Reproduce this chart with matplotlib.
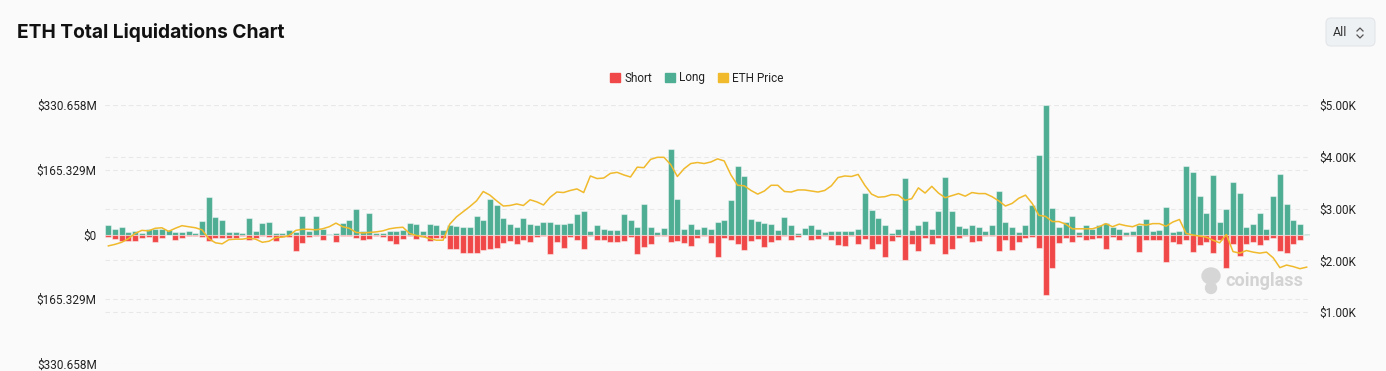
import numpy as np
import matplotlib
matplotlib.use("Agg")
import matplotlib.pyplot as plt
import matplotlib.transforms as mtransforms
from matplotlib.patches import Patch, FancyBboxPatch, Ellipse
from matplotlib.lines import Line2D

plt.rcParams['font.family'] = ['Roboto', 'DejaVu Sans']

# liquidations in $M per period, price in $K
long_liq = [24.6, 15, 18, 6, 9, 3, 15, 13, 14, 11, 7, 6, 8, 4, 35, 97, 45, 36, 7, 7,
            3, 43, 9, 30, 32, 4, 3, 11, 7, 47, 8.5, 46, 13, 2.5, 4, 30, 38, 64, 9, 55,
            3, 3, 8.5, 9, 11, 30, 27, 8.5, 27, 23, 11, 25, 21, 18, 19, 48, 36, 90, 75, 43,
            28, 18, 43, 28, 25, 33, 31, 28, 28, 30, 53, 60, 9, 25, 13, 11, 11, 52, 38, 18,
            78, 20, 6, 17, 219, 90, 13, 28, 13, 18, 14, 33, 38, 89, 176, 149, 40, 35, 30, 28,
            12, 44, 24, 3, 17, 25, 15, 6, 9, 9, 8, 8, 14, 106, 62, 41, 24, 4, 15, 145,
            11, 25, 35, 13, 60, 148, 59, 21, 17, 25, 20, 9, 23, 110, 32, 20, 7, 25, 76, 204,
            330.658, 68, 20, 31, 48, 7, 25, 13, 24, 30, 20, 13, 7, 10, 24, 39, 8.5, 11, 70, 6,
            9, 174, 159, 98, 55, 153, 31, 64, 134, 106, 20, 28, 55, 13, 98, 155, 79, 38, 26, 0.3]
short_liq = [6, 12, 16, 16, 16, 8.5, 6, 19, 8.5, 2, 13, 10, 4, 4, 6, 16, 8, 8, 10, 8,
             4, 14, 8, 4, 6, 16, 6, 6, 42, 21, 6, 4, 14, 2, 20, 4, 4, 8, 13, 12,
             4, 6, 16, 25, 12, 3, 12, 6, 16, 10, 8.5, 37, 38, 47, 47, 47, 40, 38, 34, 21,
             17, 23, 14, 20, 7, 5, 50, 20, 34, 7, 15, 36, 5, 13, 14, 20, 19, 16, 7, 50,
             31, 25, 3, 5, 20, 17, 21, 30, 9, 5, 21, 57, 8.5, 13, 25, 40, 17, 11, 31, 19,
             13, 3, 13, 6, 2, 14, 12, 5, 14, 27, 30, 4, 23, 11, 36, 25, 57, 17, 6, 65,
             25, 42, 10, 23, 10, 50, 37, 10, 4, 19, 16, 4, 4, 42, 13, 40, 20, 10, 6, 34,
             155, 85, 21, 10, 18, 6, 14, 11, 10, 37, 7, 14, 4, 3, 44, 13, 14, 14, 70, 19,
             23, 13, 44, 27, 19, 48, 14, 85, 25, 55, 23, 19, 27, 13, 10, 42, 46, 25, 13, 1]
eth_price = [2.28, 2.31, 2.35, 2.42, 2.52, 2.58, 2.57, 2.62, 2.63, 2.56, 2.62, 2.67, 2.65, 2.63, 2.59, 2.42, 2.34, 2.32, 2.40, 2.41,
             2.41, 2.43, 2.41, 2.35, 2.37, 2.44, 2.45, 2.48, 2.58, 2.60, 2.60, 2.59, 2.61, 2.65, 2.72, 2.65, 2.62, 2.54, 2.53, 2.54,
             2.55, 2.57, 2.61, 2.63, 2.64, 2.52, 2.48, 2.46, 2.42, 2.39, 2.39, 2.70, 2.84, 2.94, 3.04, 3.15, 3.33, 3.26, 3.15, 3.05,
             3.06, 3.09, 3.06, 3.17, 3.13, 3.07, 3.22, 3.32, 3.31, 3.35, 3.38, 3.31, 3.63, 3.58, 3.59, 3.68, 3.70, 3.65, 3.61, 3.80,
             3.79, 3.95, 3.99, 3.99, 3.85, 3.62, 3.77, 3.87, 3.89, 3.87, 3.90, 3.96, 3.92, 3.65, 3.45, 3.44, 3.35, 3.28, 3.34, 3.45,
             3.45, 3.33, 3.32, 3.36, 3.36, 3.34, 3.32, 3.35, 3.44, 3.60, 3.63, 3.62, 3.66, 3.45, 3.28, 3.22, 3.23, 3.27, 3.26, 3.16,
             3.19, 3.40, 3.30, 3.43, 3.30, 3.21, 3.25, 3.29, 3.24, 3.31, 3.29, 3.29, 3.23, 3.15, 3.05, 3.10, 3.20, 3.26, 3.10, 2.87,
             2.85, 2.75, 2.75, 2.70, 2.61, 2.61, 2.61, 2.61, 2.65, 2.71, 2.65, 2.70, 2.67, 2.65, 2.70, 2.68, 2.71, 2.71, 2.66, 2.74,
             2.79, 2.52, 2.49, 2.47, 2.45, 2.39, 2.34, 2.50, 2.17, 2.14, 2.19, 2.16, 2.14, 2.16, 2.05, 1.86, 1.91, 1.88, 1.84, 1.87]

left_max = 330.658
left_ticks = [-left_max, -left_max / 2, 0, left_max / 2, left_max]
right_ticks = [1000, 2000, 3000, 4000, 5000]

GREEN = '#4EAE94'
RED = '#F04848'
YELLOW = '#F0BA2C'
BG = '#FAFAFA'
GRID = '#E8E8E8'
TXT = '#222222'

W, H = 1386, 371
fig = plt.figure(figsize=(W / 100, H / 100), dpi=100, facecolor=BG)
ax = fig.add_axes([105 / W, 7 / H, 1205 / W, 259 / H])
ax.set_facecolor(BG)
ax2 = ax.twinx()

x = np.arange(1, len(long_liq) + 1)
edge = (1, 1, 1, 0.45)
ax.bar(x, long_liq, width=0.9, color=GREEN, edgecolor=edge, linewidth=0.8, zorder=2)
ax.bar(x, -np.array(short_liq), width=0.9, color=RED, edgecolor=edge, linewidth=0.8, zorder=2)

ax2.plot(x, np.array(eth_price) * 1000, color=YELLOW, lw=1.1, zorder=3)

ax.set_xlim(0.5, len(x) + 0.5)
ax.set_ylim(-left_max, left_max)
ax2.set_ylim(0, 5000)

ax.set_yticks(left_ticks)
ax.set_yticklabels(['$0' if v == 0 else f'${abs(v):.3f}M' for v in left_ticks])
ax2.set_yticks(right_ticks)
ax2.set_yticklabels([f'${v / 1000:.2f}K' for v in right_ticks])
ax.set_xticks([])

for a in (ax, ax2):
    for s in a.spines.values():
        s.set_visible(False)
    a.tick_params(length=0, labelsize=8.5, labelcolor=TXT)
ax.tick_params(axis='y', pad=6)
ax2.tick_params(axis='y', pad=7)

# gridlines behind the bars, for both scales
for t in left_ticks:
    ax.axhline(t, color=GRID, lw=0.8, ls=(0, (4, 3)), zorder=0)
blend = mtransforms.blended_transform_factory(ax.transAxes, ax2.transData)
for t in right_ticks:
    ax.add_line(Line2D([0, 1], [t, t], transform=blend, color=GRID, lw=0.8,
                       ls=(0, (4, 3)), zorder=0))

# title and legend
fig.text(17 / W, 1 - 32 / H, 'ETH Total Liquidations Chart', fontsize=13.8,
         fontweight='bold', color='#111111', va='center', family=['Inter', 'DejaVu Sans'])
handles = [Patch(color=RED, label='Short'), Patch(color=GREEN, label='Long'),
           Patch(color=YELLOW, label='ETH Price')]
fig.legend(handles=handles, loc='center', bbox_to_anchor=(697 / W, 1 - 78 / H), ncol=3,
           frameon=False, fontsize=8.5, handlelength=0.8, handleheight=0.8,
           handletextpad=0.4, columnspacing=1.1, labelcolor=TXT)

# "All" selector button
px = mtransforms.IdentityTransform()
fig.add_artist(FancyBboxPatch((1326, H - 46), 49, 28, boxstyle='round,pad=0,rounding_size=5',
                              transform=px, facecolor='#EEF1F4', edgecolor='#E2E5E9', lw=0.8))
fig.text(1333 / W, 1 - 32 / H, 'All', fontsize=9, color='#333333', va='center')
fig.add_artist(Line2D([1357, 1360, 1363], [H - 31, H - 28, H - 31], transform=px, color='#555555', lw=0.9))
fig.add_artist(Line2D([1357, 1360, 1363], [H - 35, H - 38, H - 35], transform=px, color='#555555', lw=0.9))

# watermark
fig.add_artist(Ellipse((1211, H - 276), 18, 16, transform=px, color='#D6D6D6'))
fig.add_artist(Ellipse((1211, H - 288), 11, 11, transform=px, color='#D6D6D6'))
fig.text(1225 / W, 1 - 281 / H, 'coinglass', fontsize=13, fontweight='bold',
         color='#D3D3D3', va='center')

fig.savefig('out.png', dpi=100, facecolor=BG)
